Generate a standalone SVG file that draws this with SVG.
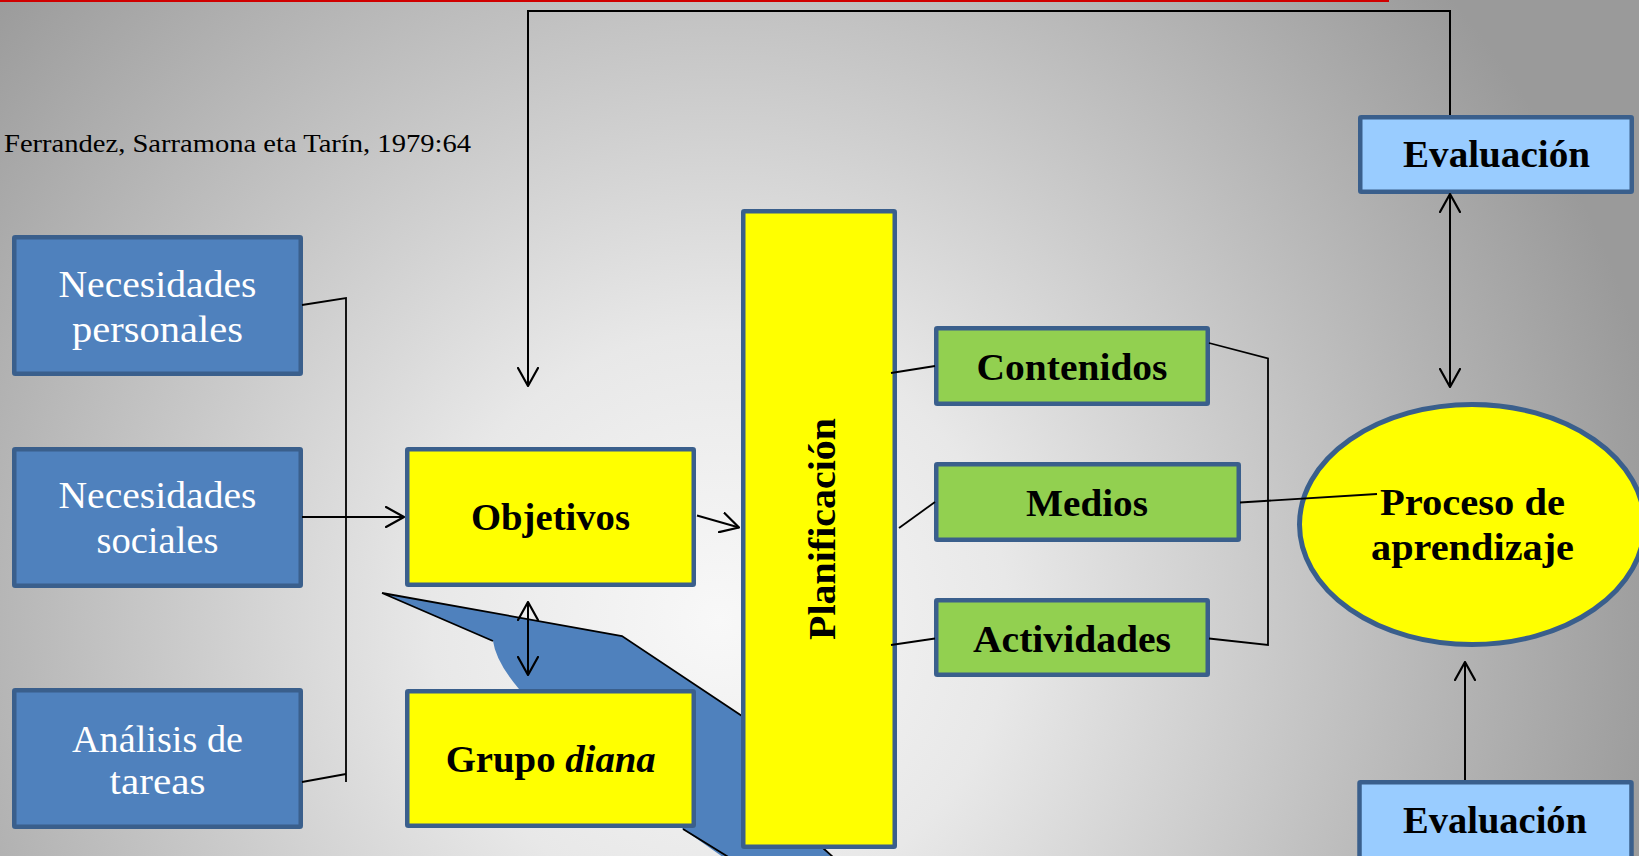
<svg xmlns="http://www.w3.org/2000/svg" width="1639" height="856" viewBox="0 0 1639 856">
<defs>
<radialGradient id="bg" gradientUnits="userSpaceOnUse" cx="720" cy="620" r="960">
<stop offset="0" stop-color="#f8f8f8"/>
<stop offset="0.3" stop-color="#e8e8e8"/>
<stop offset="1" stop-color="#9a9a9a"/>
</radialGradient>
<marker id="arr" viewBox="0 0 20 22" markerWidth="20" markerHeight="22" refX="19" refY="11" markerUnits="userSpaceOnUse" orient="auto-start-reverse">
<path d="M1,1 L19,11 L1,21" fill="none" stroke="#000" stroke-width="2.2" stroke-linecap="round" stroke-linejoin="round"/>
</marker>
<style>
.box{stroke:#3a5f8c;stroke-width:4.5}
.blue{fill:#4f81bd}
.yel{fill:#ffff00}
.grn{fill:#92d050}
.lb{fill:#99ccff}
.wt{font-family:"Liberation Serif",serif;font-size:37px;fill:#fff;text-anchor:middle}
.bt{font-family:"Liberation Serif",serif;font-size:37px;font-weight:bold;fill:#000;text-anchor:middle}
.ln{fill:none;stroke:#000;stroke-width:2}
.thin{fill:none;stroke:#000;stroke-width:1.8}
</style>
</defs>
<rect x="0" y="0" width="1639" height="856" fill="url(#bg)"/>
<rect x="0" y="0" width="1389" height="2" fill="#d00000"/>
<text x="4" y="152" font-family="Liberation Serif, serif" font-size="25" fill="#000" textLength="467" lengthAdjust="spacingAndGlyphs">Ferrandez, Sarramona eta Tarín, 1979:64</text>

<g id="callout">
<path d="M382,593 L622,636 L742,716 L780,760 L823,848 L836,862 L730,862 L683,829 L560,740 L519,689 Q496,662 493,641 Z" fill="#4f81bd"/>
<path d="M382,593 L622,636 L742,716 M382,593 L493,641 M683,829 L730,858 M823,848 L834,858" class="thin"/>
</g>

<g id="node-necesidades-personales">
<rect class="box blue" x="14.25" y="237.25" width="286.5" height="136.5" rx="1"/>
<text class="wt" x="157.5" y="296.7" textLength="198" lengthAdjust="spacingAndGlyphs">Necesidades</text>
<text class="wt" x="157.5" y="341.7" textLength="171" lengthAdjust="spacingAndGlyphs">personales</text>
</g>
<g id="node-necesidades-sociales">
<rect class="box blue" x="14.25" y="449.25" width="286.5" height="136.5" rx="1"/>
<text class="wt" x="157.5" y="508.3" textLength="198" lengthAdjust="spacingAndGlyphs">Necesidades</text>
<text class="wt" x="157.5" y="553.3" textLength="122" lengthAdjust="spacingAndGlyphs">sociales</text>
</g>
<g id="node-analisis-tareas">
<rect class="box blue" x="14.25" y="690.25" width="286.5" height="136.5" rx="1"/>
<text class="wt" x="157.5" y="751.7" textLength="171" lengthAdjust="spacingAndGlyphs">Análisis de</text>
<text class="wt" x="157.5" y="794" textLength="96" lengthAdjust="spacingAndGlyphs">tareas</text>
</g>
<g id="node-objetivos">
<rect class="box yel" x="407.25" y="449.25" width="286.5" height="135.5" rx="1"/>
<text class="bt" x="550.5" y="530" textLength="159" lengthAdjust="spacingAndGlyphs">Objetivos</text>
</g>
<g id="node-grupo-diana">
<rect class="box yel" x="407.25" y="691.25" width="286.5" height="134.5" rx="1"/>
<text class="bt" x="550.7" y="771.7" textLength="210" lengthAdjust="spacingAndGlyphs">Grupo <tspan font-style="italic">diana</tspan></text>
</g>
<g id="node-planificacion">
<rect class="box yel" x="743.25" y="211.25" width="151.5" height="635.5" rx="1"/>
<text class="bt" transform="translate(835,529) rotate(-90)" x="0" y="0" textLength="222" lengthAdjust="spacingAndGlyphs">Planificación</text>
</g>
<g id="node-contenidos">
<rect class="box grn" x="936.25" y="328.25" width="271.5" height="75.5" rx="1"/>
<text class="bt" x="1072" y="380" textLength="191" lengthAdjust="spacingAndGlyphs">Contenidos</text>
</g>
<g id="node-medios">
<rect class="box grn" x="936.25" y="464.25" width="302.5" height="75.5" rx="1"/>
<text class="bt" x="1087" y="516" textLength="122" lengthAdjust="spacingAndGlyphs">Medios</text>
</g>
<g id="node-actividades">
<rect class="box grn" x="936.25" y="600.25" width="271.5" height="74.5" rx="1"/>
<text class="bt" x="1072" y="651.7" textLength="198" lengthAdjust="spacingAndGlyphs">Actividades</text>
</g>
<g id="node-proceso">
<ellipse cx="1472" cy="524.5" rx="172.5" ry="120" fill="#ffff00" stroke="#3a5f8c" stroke-width="5"/>
<text class="bt" x="1472.5" y="515" textLength="185" lengthAdjust="spacingAndGlyphs">Proceso de</text>
<text class="bt" x="1472.5" y="560" textLength="203" lengthAdjust="spacingAndGlyphs">aprendizaje</text>
</g>
<g id="node-evaluacion-top">
<rect class="box lb" x="1360.25" y="117.25" width="271.5" height="74.5" rx="1"/>
<text class="bt" x="1496.5" y="166.7" textLength="187" lengthAdjust="spacingAndGlyphs">Evaluación</text>
</g>
<g id="node-evaluacion-bottom">
<rect class="box lb" x="1359.5" y="782.25" width="272" height="100" rx="1"/>
<text class="bt" x="1495" y="833.3" textLength="184" lengthAdjust="spacingAndGlyphs">Evaluación</text>
</g>

<g id="connectors">
<polyline class="ln" points="1450,115 1450,11 528,11 528,386" marker-end="url(#arr)"/>
<path class="thin" d="M302,305 L346,298 L346,782 M346,774 L302,782"/>
<line class="ln" x1="302" y1="517" x2="404" y2="517" marker-end="url(#arr)"/>
<line class="ln" x1="697" y1="515.5" x2="739" y2="527.5" marker-end="url(#arr)"/>
<line class="ln" x1="528" y1="602" x2="528" y2="675" marker-start="url(#arr)" marker-end="url(#arr)"/>
<line class="thin" x1="891" y1="373" x2="935" y2="366"/>
<line class="thin" x1="899" y1="528" x2="935" y2="502"/>
<line class="thin" x1="891" y1="645" x2="935" y2="638.5"/>
<polyline class="thin" points="1209,343 1268,358.5 1268,645 1209,638.5"/>
<line class="thin" x1="1240" y1="502.5" x2="1377" y2="494"/>
<line class="ln" x1="1450" y1="194" x2="1450" y2="387" marker-start="url(#arr)" marker-end="url(#arr)"/>
<line class="ln" x1="1465" y1="780" x2="1465" y2="662" marker-end="url(#arr)"/>
</g>
</svg>
